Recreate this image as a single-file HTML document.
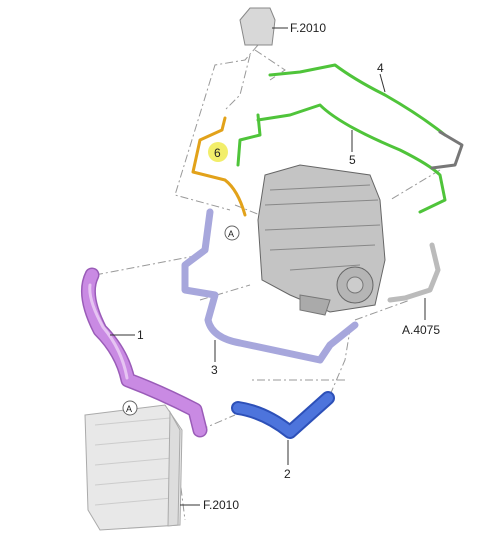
<!DOCTYPE html>
<html><head><meta charset="utf-8"><style>
html,body{margin:0;padding:0;background:#fff;width:482px;height:544px;overflow:hidden}
svg{display:block}
text{font-family:"Liberation Sans",sans-serif;font-size:12px;fill:#222}
</style></head><body>
<svg width="482" height="544" viewBox="0 0 482 544">
<g fill="none" stroke="#999" stroke-width="1" stroke-dasharray="8,3,2,3">
<path d="M258 45 L245 60 L215 65 L175 195 L230 210"/>
<path d="M255 50 L285 70 L270 80"/>
<path d="M250 55 L240 95 L225 110"/>
<path d="M95 275 L200 255"/>
<path d="M235 205 L260 215"/>
<path d="M200 300 L250 285"/>
<path d="M355 320 L410 300"/>
<path d="M440 170 L390 200"/>
<path d="M200 430 L235 415"/>
<path d="M330 395 L345 360 L350 330"/>
<path d="M175 440 L185 520"/>
<path d="M345 380 L250 380"/>
</g>
<g>
<path d="M240 20 L250 8 L270 8 L275 20 L272 45 L245 45 Z" fill="#d8d8d8" stroke="#888"/>
<line x1="272" y1="28" x2="288" y2="28" stroke="#333"/>
<text x="290" y="32">F.2010</text>
</g>
<g>
<path d="M265 175 L300 165 L370 175 L380 200 L385 260 L375 305 L330 312 L290 295 L262 280 L258 220 Z" fill="#c4c4c4" stroke="#666"/>
<path d="M270 190 L370 185 M265 205 L378 200 M265 230 L380 225 M270 250 L375 245 M290 270 L360 265" stroke="#888" fill="none"/>
<path d="M300 295 L330 300 L325 315 L300 310 Z" fill="#aaa" stroke="#777"/>
<circle cx="355" cy="285" r="18" fill="#b5b5b5" stroke="#666"/>
<circle cx="355" cy="285" r="8" fill="#ccc" stroke="#777"/>
</g>
<g fill="none" stroke-linecap="round" stroke-linejoin="round">
<path d="M270 75 L300 72 L335 65 Q355 80 385 95 Q420 115 445 135" stroke="#4fc43a" stroke-width="3"/>
<path d="M258 115 L260 135 L240 140 L238 165 M258 120 L290 115 L320 105 Q340 125 400 150 Q430 165 440 175 L445 200 L420 212" stroke="#4fc43a" stroke-width="3"/>
<path d="M440 132 L462 145 L455 165 L432 168" stroke="#777" stroke-width="3"/>
<path d="M225 118 L222 130 L200 140 L193 172 L225 180 Q238 190 245 215" stroke="#e2a21a" stroke-width="3"/>
<path d="M210 212 L205 250 L185 265 L185 290 L215 295 L208 320 Q212 338 240 343 L320 360 L330 345 L355 325" stroke="#a7a7dc" stroke-width="7"/>
<path d="M92 275 Q82 295 100 330 Q122 352 128 380 Q160 392 195 410 L200 430" stroke="#9a5cb8" stroke-width="15"/>
<path d="M92 275 Q82 295 100 330 Q122 352 128 380 Q160 392 195 410 L200 430" stroke="#c98ae3" stroke-width="12"/>
<path d="M90 285 Q88 300 103 327 Q122 350 127 378" stroke="#e6c4f2" stroke-width="3"/>
<path d="M238 408 Q265 412 290 432 L328 398" stroke="#2d50b8" stroke-width="14"/>
<path d="M238 408 Q265 412 290 432 L328 398" stroke="#4d74dc" stroke-width="10"/>
<path d="M432 245 L438 270 L430 290 L405 298 L390 300" stroke="#bbb" stroke-width="5"/>
</g>
<g>
<path d="M85 415 L165 405 L182 430 L180 525 L100 530 L88 510 Z" fill="#e8e8e8" stroke="#aaa"/>
<path d="M95 425 L170 418 M95 445 L172 438 M95 465 L172 458 M95 485 L172 478 M95 505 L172 498" stroke="#ccc"/>
<path d="M170 412 L180 430 L178 525 L168 526 Z" fill="#ddd" stroke="#aaa"/>
</g>
<g stroke="#333" stroke-width="1">
<line x1="385" y1="92" x2="380" y2="74"/>
<line x1="352" y1="130" x2="352" y2="152"/>
<line x1="215" y1="340" x2="215" y2="362"/>
<line x1="110" y1="335" x2="135" y2="335"/>
<line x1="288" y1="440" x2="288" y2="465"/>
<line x1="425" y1="298" x2="425" y2="320"/>
<line x1="180" y1="505" x2="200" y2="505"/>
</g>
<text x="377" y="72">4</text>
<text x="349" y="164">5</text>
<text x="211" y="374">3</text>
<text x="137" y="339">1</text>
<text x="284" y="478">2</text>
<text x="402" y="334">A.4075</text>
<text x="203" y="509">F.2010</text>
<circle cx="218" cy="152" r="10" fill="#f2ee6a"/>
<text x="214" y="157">6</text>
<circle cx="232" cy="233" r="7" fill="#fff" stroke="#666"/>
<text x="228" y="237" style="font-size:9px">A</text>
<circle cx="130" cy="408" r="7" fill="#fff" stroke="#666"/>
<text x="126" y="412" style="font-size:9px">A</text>
</svg>
</body></html>
